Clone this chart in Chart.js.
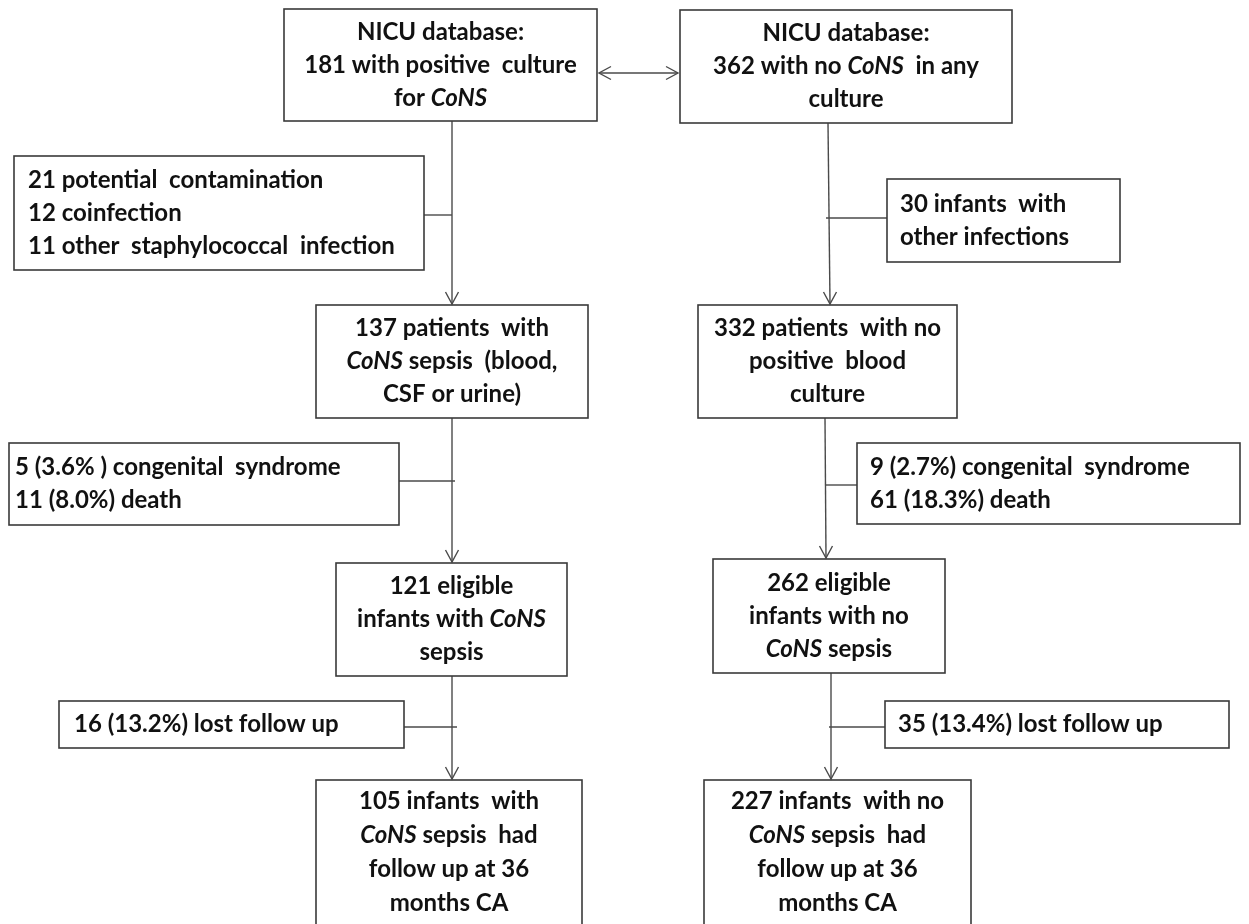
<!DOCTYPE html>
<html>
<head>
<meta charset="utf-8">
<script src="https://cdn.jsdelivr.net/npm/chart.js@4.4.1/dist/chart.umd.min.js"></script>
<style>
html, body { margin: 0; padding: 0; background: #fff; }
#wrap { width: 1249px; height: 924px; }
</style>
</head>
<body>
<div id="wrap"><canvas id="flow" width="1249" height="924"></canvas></div>
<script>
// patient counts down each arm (CoNS sepsis / no CoNS)
const consCounts = [181, 137, 121, 105];
const controlCounts = [362, 332, 262, 227];

// box texts, *...* = italic
const mainLabels = [
  ['NICU database:', consCounts[0] + ' with positive  culture', 'for *CoNS*'],
  ['NICU database:', controlCounts[0] + ' with no *CoNS*  in any', 'culture'],
  [consCounts[1] + ' patients  with', '*CoNS* sepsis  (blood,', 'CSF or urine)'],
  [controlCounts[1] + ' patients  with no', 'positive  blood', 'culture'],
  [consCounts[2] + ' eligible', 'infants with *CoNS*', 'sepsis'],
  [controlCounts[2] + ' eligible', 'infants with no', '*CoNS* sepsis'],
  [consCounts[3] + ' infants  with', '*CoNS* sepsis  had', 'follow up at 36', 'months CA'],
  [controlCounts[3] + ' infants  with no', '*CoNS* sepsis  had', 'follow up at 36', 'months CA']
];

const exclusionLabels = [
  ['21 potential  contamination', '12 coinfection', '11 other  staphylococcal  infection'],
  ['30 infants  with', 'other infections'],
  ['5 (3.6% ) congenital  syndrome', '11 (8.0%) death'],
  ['9 (2.7%) congenital  syndrome', '61 (18.3%) death'],
  ['16 (13.2%) lost follow up'],
  ['35 (13.4%) lost follow up']
];

// layout, in the chart's own x/y units (y grows downwards)
const mainBoxes = [
  [284, 597, 9, 121], [680, 1012, 10, 123],
  [316, 588, 305, 418], [698, 957, 305, 418],
  [336, 567, 563, 676], [713, 945, 559, 673],
  [316, 582, 780, 945], [704, 971, 780, 945]
];
const exclusionBoxes = [
  [14, 424, 156, 270], [887, 1120, 179, 262],
  [9, 399, 443, 525], [857, 1240, 443, 524],
  [59, 404, 701, 748], [885, 1229, 701, 748]
];
const exclusionPad = [14, 13, 6, 13, 15, 13];
// vertical flow arrows: x top, x bottom, from box, to box
const flowArrows = [
  [452, 452, 0, 2], [828, 830, 1, 3],
  [452, 452, 2, 4], [825, 826, 3, 5],
  [452, 452, 4, 6], [831, 831, 5, 7]
];
// exclusion ticks: y, x from, x to
const exclusionTicks = [
  [215, 424, 452], [218, 826, 887],
  [481, 399, 455], [485, 825, 857],
  [727, 404, 457], [727, 829, 885]
];

const LINE_H = 33;
const LINE_H4 = 34;
const FONT = '"Lato", "Open Sans", sans-serif';
const FONT_SIZE = 24;
const WEIGHT = 'bold';

function drawRich(ctx, line, xPos, yPos, align) {
  const parts = line.split('*');
  const fonts = parts.map((p, i) => (i % 2 ? 'italic ' : '') + WEIGHT + ' ' + FONT_SIZE + 'px ' + FONT);
  const widths = parts.map((p, i) => { ctx.font = fonts[i]; return ctx.measureText(p).width; });
  const total = widths.reduce((a, b) => a + b, 0);
  let cx = align === 'center' ? xPos - total / 2 : xPos;
  parts.forEach((p, i) => {
    ctx.font = fonts[i];
    ctx.fillText(p, cx, yPos);
    cx += widths[i];
  });
}

function arrowHead(ctx, tx, ty, dx, dy) {
  // open V head pointing along (dx, dy)
  const len = 12, half = 6.5;
  const nx = -dy, ny = dx;
  ctx.beginPath();
  ctx.moveTo(tx - dx * len + nx * half, ty - dy * len + ny * half);
  ctx.lineTo(tx, ty);
  ctx.lineTo(tx - dx * len - nx * half, ty - dy * len - ny * half);
  ctx.stroke();
}

const flowPlugin = {
  id: 'flow',
  afterDatasetsDraw(chart) {
    const { ctx, scales: { x, y } } = chart;
    const px = v => x.getPixelForValue(v);
    const py = v => y.getPixelForValue(v);
    ctx.save();
    ctx.fillStyle = '#fff';
    ctx.fillRect(0, 0, chart.width, chart.height);

    // connectors
    ctx.strokeStyle = '#4a4a4a';
    ctx.lineWidth = 1.4;
    flowArrows.forEach(([xt, xb, from, to]) => {
      const y0 = py(mainBoxes[from][3]), y1 = py(mainBoxes[to][2]) - 1;
      ctx.beginPath();
      ctx.moveTo(px(xt), y0);
      ctx.lineTo(px(xb), y1);
      ctx.stroke();
      arrowHead(ctx, px(xb), y1, 0, 1);
    });
    exclusionTicks.forEach(([yy, xa, xb]) => {
      ctx.beginPath();
      ctx.moveTo(px(xa), py(yy));
      ctx.lineTo(px(xb), py(yy));
      ctx.stroke();
    });
    // double arrow between the two databases
    const dy = py((mainBoxes[0][2] + mainBoxes[0][3]) / 2 + 8);
    const dxa = px(mainBoxes[0][1]) + 2, dxb = px(mainBoxes[1][0]) - 2;
    ctx.beginPath();
    ctx.moveTo(dxa, dy);
    ctx.lineTo(dxb, dy);
    ctx.stroke();
    arrowHead(ctx, dxa, dy, -1, 0);
    arrowHead(ctx, dxb, dy, 1, 0);

    // boxes
    ctx.strokeStyle = '#3a3a3a';
    ctx.lineWidth = 1.6;
    ctx.fillStyle = '#111';
    ctx.textBaseline = 'middle';
    mainBoxes.forEach((b, i) => {
      const [x0, x1, y0, y1] = b.map((v, k) => k < 2 ? px(v) : py(v));
      ctx.strokeRect(x0, y0, x1 - x0, y1 - y0);
      const lines = mainLabels[i];
      if (lines.length > 3) {
        lines.forEach((l, j) => drawRich(ctx, l, (x0 + x1) / 2, y0 + 21 + j * LINE_H4, 'center'));
      } else {
        const first = (y0 + y1) / 2 - LINE_H * (lines.length - 1) / 2;
        lines.forEach((l, j) => drawRich(ctx, l, (x0 + x1) / 2, first + j * LINE_H, 'center'));
      }
    });
    exclusionBoxes.forEach((b, i) => {
      const [x0, x1, y0, y1] = b.map((v, k) => k < 2 ? px(v) : py(v));
      ctx.strokeRect(x0, y0, x1 - x0, y1 - y0);
      const lines = exclusionLabels[i];
      const first = (y0 + y1) / 2 - LINE_H * (lines.length - 1) / 2;
      lines.forEach((l, j) => drawRich(ctx, l, x0 + exclusionPad[i], first + j * LINE_H, 'left'));
    });
    ctx.restore();
  }
};

// anchor points at box centres so the scatter carries the nodes
const anchors = mainBoxes.concat(exclusionBoxes).map(b => ({ x: (b[0] + b[1]) / 2, y: (b[2] + b[3]) / 2 }));

new Chart(document.getElementById('flow'), {
  type: 'scatter',
  data: { datasets: [{ data: anchors, pointRadius: 0, showLine: false }] },
  options: {
    responsive: false,
    animation: false,
    layout: { padding: 0 },
    plugins: { legend: { display: false }, tooltip: { enabled: false } },
    scales: {
      x: { type: 'linear', min: 0, max: 1249, display: false },
      y: { type: 'linear', min: 0, max: 924, reverse: true, display: false }
    }
  },
  plugins: [flowPlugin]
});
</script>
</body>
</html>
